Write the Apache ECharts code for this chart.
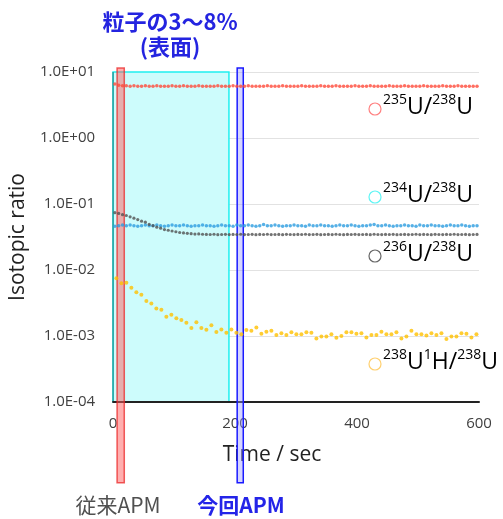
<!DOCTYPE html>
<html>
<head>
<meta charset="utf-8">
<script src="https://cdn.jsdelivr.net/npm/echarts@6/dist/echarts.min.js"></script>
<style>
  html, body { margin: 0; padding: 0; background: #fff; }
  #chart { width: 503px; height: 519px; }
</style>
</head>
<body>
<div id="chart"></div>
<script>
// Sampling times (s) of the uranium ratio channels
const timeU = [3, 9.25, 15.5, 21.75, 28, 34.25, 40.5, 46.75, 53, 59.25, 65.5, 71.75, 78, 84.25, 90.5, 96.75,
  103, 109.25, 115.5, 121.75, 128, 134.25, 140.5, 146.75, 153, 159.25, 165.5, 171.75, 178, 184.25, 190.5, 196.75,
  203, 209.25, 215.5, 221.75, 228, 234.25, 240.5, 246.75, 253, 259.25, 265.5, 271.75, 278, 284.25, 290.5, 296.75,
  303, 309.25, 315.5, 321.75, 328, 334.25, 340.5, 346.75, 353, 359.25, 365.5, 371.75, 378, 384.25, 390.5, 396.75,
  403, 409.25, 415.5, 421.75, 428, 434.25, 440.5, 446.75, 453, 459.25, 465.5, 471.75, 478, 484.25, 490.5, 496.75,
  503, 509.25, 515.5, 521.75, 528, 534.25, 540.5, 546.75, 553, 559.25, 565.5, 571.75, 578, 584.25, 590.5, 596.75];

// 235U/238U
const ratio235 = [6.6, 6.3, 6.2, 6.2, 6.1, 6.2, 6.1, 6.1, 6.2, 6.1, 6.1, 6.2, 6.1, 6.1, 6.1, 6.2,
  6.1, 6.1, 6.2, 6.1, 6.1, 6.1, 6.2, 6.1, 6.1, 6.1, 6.1, 6.2, 6.1, 6.1, 6.1, 6.2,
  6.1, 6.1, 6.1, 6.2, 6.1, 6.1, 6.1, 6.1, 6.2, 6.1, 6.1, 6.1, 6.2, 6.1, 6.1, 6.1,
  6.1, 6.2, 6.1, 6.1, 6.1, 6.1, 6.2, 6.1, 6.1, 6.1, 6.2, 6.1, 6.1, 6.1, 6.1, 6.2,
  6.1, 6.1, 6.1, 6.2, 6.1, 6.1, 6.1, 6.1, 6.2, 6.1, 6.1, 6.1, 6.2, 6.1, 6.1, 6.1,
  6.1, 6.2, 6.1, 6.1, 6.1, 6.1, 6.2, 6.1, 6.1, 6.1, 6.2, 6.1, 6.1, 6.1, 6.1, 6.1];

// 234U/238U
const ratio234 = [0.046, 0.047, 0.048, 0.047, 0.048, 0.047, 0.046, 0.047, 0.048, 0.047, 0.047, 0.048, 0.047, 0.046, 0.047, 0.048,
  0.047, 0.047, 0.048, 0.047, 0.046, 0.047, 0.047, 0.048, 0.047, 0.047, 0.046, 0.047, 0.048, 0.047, 0.047, 0.046,
  0.048, 0.047, 0.047, 0.048, 0.047, 0.046, 0.047, 0.049, 0.047, 0.047, 0.048, 0.047, 0.046, 0.047, 0.047, 0.048,
  0.047, 0.047, 0.046, 0.048, 0.047, 0.047, 0.048, 0.047, 0.047, 0.046, 0.047, 0.048, 0.047, 0.047, 0.048, 0.047,
  0.046, 0.047, 0.047, 0.048, 0.049, 0.047, 0.047, 0.048, 0.047, 0.046, 0.047, 0.047, 0.048, 0.047, 0.047, 0.046,
  0.048, 0.047, 0.047, 0.048, 0.047, 0.047, 0.046, 0.047, 0.048, 0.047, 0.047, 0.048, 0.047, 0.046, 0.047, 0.047];

// 236U/238U
const ratio236 = [0.074, 0.072, 0.069, 0.067, 0.064, 0.061, 0.058, 0.055, 0.053, 0.049, 0.047, 0.0445, 0.043, 0.041, 0.040, 0.039,
  0.038, 0.037, 0.0365, 0.036, 0.0355, 0.035, 0.0352, 0.0348, 0.0346, 0.0345, 0.0348, 0.0343, 0.0345, 0.0347, 0.0344, 0.0346,
  0.0345, 0.0348, 0.0344, 0.0345, 0.0347, 0.0343, 0.0346, 0.0345, 0.0348, 0.0344, 0.0345, 0.0346, 0.0343, 0.0347, 0.0345, 0.0344,
  0.0346, 0.0345, 0.0348, 0.0344, 0.0345, 0.0347, 0.0343, 0.0345, 0.0346, 0.0344, 0.0348, 0.0345, 0.0343, 0.0346, 0.0345, 0.0347,
  0.0344, 0.0345, 0.0346, 0.0343, 0.0348, 0.0345, 0.0344, 0.0346, 0.0345, 0.0347, 0.0343, 0.0345, 0.0346, 0.0344, 0.0345, 0.0348,
  0.0344, 0.0346, 0.0345, 0.0343, 0.0347, 0.0345, 0.0344, 0.0346, 0.0345, 0.0348, 0.0344, 0.0345, 0.0346, 0.0343, 0.0345, 0.0346];

// Sampling times (s) of the hydride channel
const timeH = [5.4, 13.6, 21.8, 30, 38.2, 46.4, 54.6, 62.8, 71, 79.2, 87.4, 95.6, 103.8, 112, 120.2, 128.4,
  136.6, 144.8, 153, 161.2, 169.4, 177.6, 185.8, 194, 202.2, 210.4, 218.6, 226.8, 235, 243.2, 251.4, 259.6,
  267.8, 276, 284.2, 292.4, 300.6, 308.8, 317, 325.2, 333.4, 341.6, 349.8, 358, 366.2, 374.4, 382.6, 390.8,
  399, 407.2, 415.4, 423.6, 431.8, 440, 448.2, 456.4, 464.6, 472.8, 481, 489.2, 497.4, 505.6, 513.8, 522,
  530.2, 538.4, 546.6, 554.8, 563, 571.2, 579.4, 587.6, 595.8];

// 238U1H/238U
const ratioUH = [0.0075, 0.0063, 0.0064, 0.0054, 0.0046, 0.0042, 0.0034, 0.0031, 0.0026, 0.0025, 0.00196, 0.0021, 0.00185, 0.00175, 0.00159, 0.00132,
  0.00161, 0.00132, 0.00124, 0.00145, 0.00115, 0.00126, 0.00112, 0.00126, 0.00112, 0.00106, 0.00123, 0.0012, 0.00135, 0.00108, 0.00116, 0.0012,
  0.00104, 0.0011, 0.00104, 0.00114, 0.00106, 0.00106, 0.00114, 0.00112, 0.00092, 0.00098, 0.00098, 0.00106, 0.00094, 0.001, 0.00114, 0.00114,
  0.00108, 0.0011, 0.00095, 0.00104, 0.00104, 0.00116, 0.00106, 0.00106, 0.00114, 0.00092, 0.00098, 0.0012, 0.00106, 0.00106, 0.00102, 0.0011,
  0.00104, 0.0011, 0.0009, 0.00098, 0.00098, 0.0011, 0.00108, 0.00095, 0.00106];

// Highlighted time windows (s): [start, end]
const surfaceWindow = [0, 190];      // 粒子の3～8% (表面)
const conventionalAPM = [6.6, 18.4]; // 従来APM
const currentAPM = [203.5, 213.5];   // 今回APM
// Vertical reach of the APM markers (ratio units, extends past the plot)
const markerTop = 11.5;
const markerBottom = 6e-6;

const xTicks = [0, 200, 400, 600];

const chart = echarts.init(document.getElementById('chart'), null, { renderer: 'canvas' });

function pairs(ts, vs) { return ts.map((t, i) => [t, vs[i]]); }

function spanRenderer(fill, stroke, leftEdge) {
  return function (params, api) {
    const p0 = api.coord([api.value(0), api.value(3)]);
    const p1 = api.coord([api.value(1), api.value(2)]);
    const children = [{
      type: 'rect',
      shape: { x: p0[0], y: p0[1], width: p1[0] - p0[0], height: p1[1] - p0[1] },
      style: { fill: fill, stroke: stroke, lineWidth: 1.5 }
    }];
    if (leftEdge) {
      children.push({
        type: 'line',
        shape: { x1: p0[0], y1: p0[1], x2: p0[0], y2: p1[1] },
        style: { stroke: leftEdge, lineWidth: 1.5 }
      });
    }
    return { type: 'group', children: children };
  };
}

const sansFont = "'Open Sans', 'Noto Sans', sans-serif";
const cjkFont = "'Noto Sans CJK JP', 'Noto Sans', sans-serif";

function expLabel(v) {
  const e = Math.round(Math.log10(v));
  return '1.0E' + (e < 0 ? '-' : '+') + String(Math.abs(e)).padStart(2, '0');
}

const richIso = {
  s: { fontSize: 14, fontFamily: sansFont, color: '#222', verticalAlign: 'top', lineHeight: 16 },
  u: { fontSize: 23, fontFamily: sansFont, color: '#222', lineHeight: 28 }
};

function isoLabel(x, y, text, ringColor) {
  return [
    { type: 'circle', shape: { cx: x, cy: y + 2, r: 6 }, style: { fill: 'none', stroke: ringColor, lineWidth: 1.2 }, z: 10 },
    { type: 'text', x: x + 8, y: y, style: { text: text, rich: richIso, align: 'left', verticalAlign: 'middle' }, z: 10 }
  ];
}

const option = {
  animation: false,
  grid: { left: 113, right: 24, top: 72, bottom: 117, containLabel: false },
  xAxis: {
    type: 'value', min: 0, max: 600, interval: 200, z: 1.5,
    axisLine: { show: true, lineStyle: { color: '#222', width: 2 } },
    axisTick: { show: false },
    splitLine: { show: false },
    axisLabel: { fontSize: 15, fontFamily: sansFont, color: '#404040', margin: 14,
      formatter: v => (xTicks.indexOf(v) >= 0 ? String(v) : '') },
    name: 'Time / sec', nameLocation: 'middle', nameGap: 43,
    nameTextStyle: { fontSize: 21, fontFamily: sansFont, color: '#222', padding: [0, 48, 0, 0] }
  },
  yAxis: {
    type: 'log', logBase: 10, min: 1e-4, max: 10,
    axisLine: { show: false },
    axisTick: { show: false },
    splitLine: { show: true, lineStyle: { color: '#e2e2e2', width: 1 } },
    axisLabel: { fontSize: 15, fontFamily: sansFont, color: '#404040', margin: 18, formatter: expLabel },
    name: 'Isotopic ratio', nameLocation: 'middle', nameGap: 84,
    nameTextStyle: { fontSize: 21, fontFamily: sansFont, color: '#222' }
  },
  series: [
    {
      type: 'custom', z: 1, silent: true,
      renderItem: spanRenderer('#cdfcfc', '#1ff0f0', '#2a9e9e'),
      encode: { x: [0, 1], y: [2, 3] },
      data: [[surfaceWindow[0], surfaceWindow[1], 1e-4, 10]]
    },
    {
      type: 'custom', z: 2, silent: true,
      renderItem: spanRenderer('rgba(255,95,95,0.5)', 'rgba(235,40,40,0.75)'),
      encode: { x: [0, 1], y: [2, 3] },
      data: [[conventionalAPM[0], conventionalAPM[1], markerBottom, markerTop]]
    },
    {
      type: 'custom', z: 2, silent: true,
      renderItem: spanRenderer('rgba(150,150,255,0.4)', '#1a1aff'),
      encode: { x: [0, 1], y: [2, 3] },
      data: [[currentAPM[0], currentAPM[1], markerBottom, markerTop]]
    },
    { type: 'scatter', z: 3, name: '235U/238U', symbolSize: 3.5, itemStyle: { color: '#ff4a3a' }, data: pairs(timeU, ratio235) },
    { type: 'scatter', z: 3, name: '234U/238U', symbolSize: 3.5, itemStyle: { color: '#2c9ce0' }, data: pairs(timeU, ratio234) },
    { type: 'scatter', z: 3, name: '236U/238U', symbolSize: 3.2, itemStyle: { color: '#505050' }, data: pairs(timeU, ratio236) },
    { type: 'scatter', z: 3, name: '238U1H/238U', symbolSize: 4, itemStyle: { color: '#ffc000' }, data: pairs(timeH, ratioUH) }
  ],
  graphic: [
    { type: 'text', x: 170, y: 22, style: { text: '粒子の3～8%', fontSize: 22, fontWeight: 'bold', fontFamily: cjkFont, fill: '#2424e0', align: 'center', verticalAlign: 'middle' } },
    { type: 'text', x: 170, y: 47, style: { text: '(表面)', fontSize: 22, fontWeight: 'bold', fontFamily: cjkFont, fill: '#2424e0', align: 'center', verticalAlign: 'middle' } },
    { type: 'text', x: 118, y: 505, style: { text: '従来APM', fontSize: 21, fontFamily: cjkFont, fill: '#505050', align: 'center', verticalAlign: 'middle' } },
    { type: 'text', x: 241, y: 505, style: { text: '今回APM', fontSize: 21, fontWeight: 'bold', fontFamily: cjkFont, fill: '#2424e8', align: 'center', verticalAlign: 'middle' } },
    ...isoLabel(375, 107, '{s|235}{u|U/}{s|238}{u|U}', '#ff8080'),
    ...isoLabel(375, 195, '{s|234}{u|U/}{s|238}{u|U}', '#5ff5f5'),
    ...isoLabel(375, 254, '{s|236}{u|U/}{s|238}{u|U}', '#666666'),
    ...isoLabel(375, 362, '{s|238}{u|U}{s|1}{u|H/}{s|238}{u|U}', '#ffd070')
  ]
};

chart.setOption(option);
</script>
</body>
</html>
